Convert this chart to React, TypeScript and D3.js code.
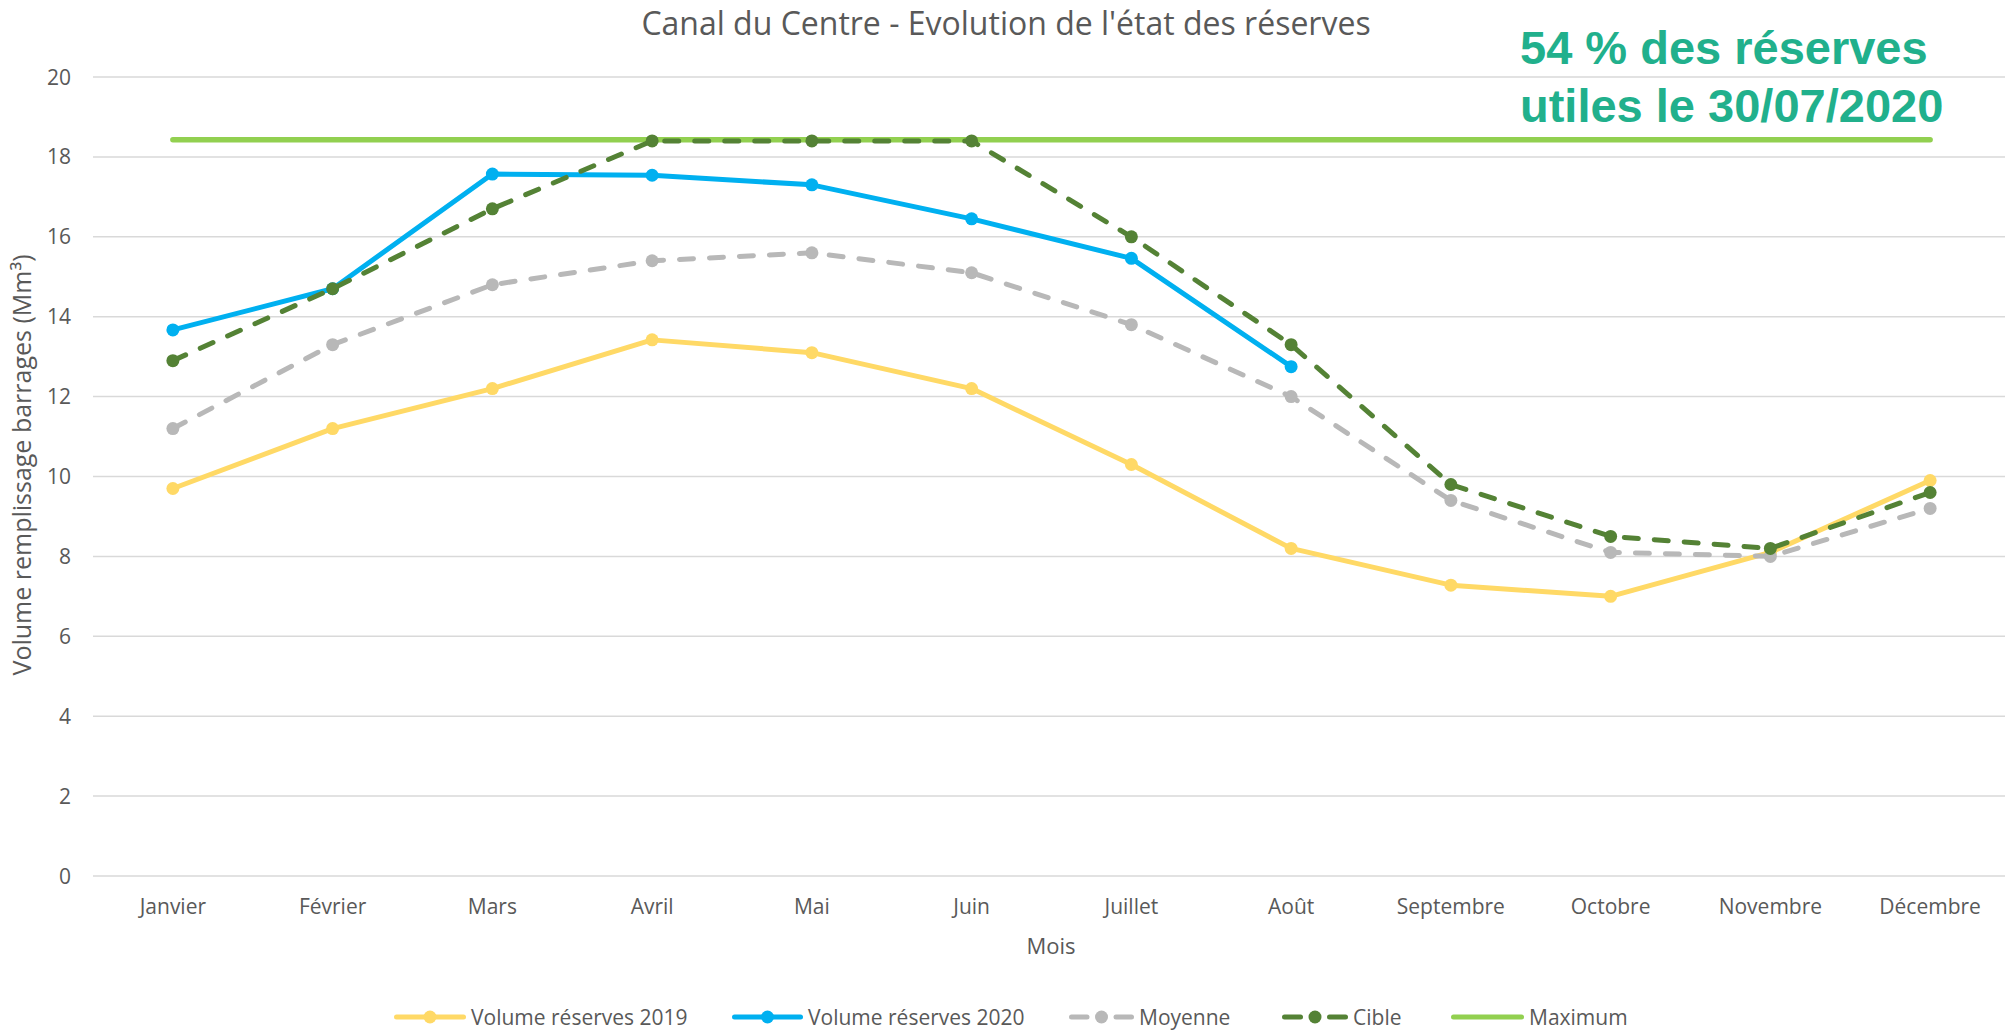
import React, { useEffect, useRef } from "react";
import * as d3 from "d3";

// month labels and series
const months = ["Janvier", "Février", "Mars", "Avril", "Mai", "Juin", "Juillet", "Août", "Septembre", "Octobre", "Novembre", "Décembre"];
const volume2019 = [9.7, 11.2, 12.2, 13.42, 13.1, 12.2, 10.3, 8.2, 7.28, 7.0, 8.1, 9.9];
const volume2020 = [13.67, 14.7, 17.57, 17.54, 17.3, 16.45, 15.46, 12.75];
const moyenne = [11.2, 13.3, 14.8, 15.4, 15.6, 15.1, 13.8, 12.0, 9.4, 8.1, 8.0, 9.2];
const cible = [12.9, 14.7, 16.7, 18.4, 18.4, 18.4, 16.0, 13.3, 9.8, 8.5, 8.2, 9.6];
const maximum = [18.43, 18.43, 18.43, 18.43, 18.43, 18.43, 18.43, 18.43, 18.43, 18.43, 18.43, 18.43];
const yTicks = [0, 2, 4, 6, 8, 10, 12, 14, 16, 18, 20];

const W = 2005;
const H = 1030;
const FONT = "'Open Sans', sans-serif";
const GREY_TEXT = "#595959";

export default function App() {
  const ref = useRef<SVGSVGElement>(null);

  useEffect(() => {
    const svg = d3.select(ref.current);
    svg.selectAll("*").remove();

    const x = d3.scalePoint<string>().domain(months).range([93, 2010]).padding(0.5);
    const y = d3.scaleLinear().domain([0, 20]).range([876, 77]);

    svg.append("rect").attr("width", W).attr("height", H).style("fill", "#ffffff");

    // grid
    svg.selectAll(".grid")
      .data(yTicks)
      .enter()
      .append("line")
      .attr("x1", 93)
      .attr("x2", W)
      .attr("y1", (d) => y(d))
      .attr("y2", (d) => y(d))
      .style("stroke", "#d9d9d9")
      .style("stroke-width", 1.5);

    // y tick labels
    svg.selectAll(".ytick")
      .data(yTicks)
      .enter()
      .append("text")
      .attr("x", 71)
      .attr("y", (d) => y(d))
      .attr("dy", "0.36em")
      .attr("text-anchor", "end")
      .style("font-family", FONT)
      .style("font-size", "21px")
      .style("fill", GREY_TEXT)
      .text((d) => d);

    // x tick labels
    svg.selectAll(".xtick")
      .data(months)
      .enter()
      .append("text")
      .attr("x", (d) => x(d)!)
      .attr("y", 914)
      .attr("text-anchor", "middle")
      .style("font-family", FONT)
      .style("font-size", "21px")
      .style("fill", GREY_TEXT)
      .text((d) => d);

    // axis titles
    svg.append("text")
      .attr("x", 1051)
      .attr("y", 954)
      .attr("text-anchor", "middle")
      .style("font-family", FONT)
      .style("font-size", "22px")
      .style("fill", GREY_TEXT)
      .text("Mois");

    svg.append("text")
      .attr("transform", "translate(31,465) rotate(-90)")
      .attr("text-anchor", "middle")
      .style("font-family", FONT)
      .style("font-size", "25px")
      .style("fill", GREY_TEXT)
      .text("Volume remplissage barrages (Mm³)");

    svg.append("text")
      .attr("x", 1006)
      .attr("y", 35)
      .attr("text-anchor", "middle")
      .style("font-family", FONT)
      .style("font-size", "32px")
      .style("fill", GREY_TEXT)
      .text("Canal du Centre - Evolution de l'état des réserves");

    const series = [
      { name: "Maximum", values: maximum, color: "#92d050", dash: null, marker: false },
      { name: "Volume réserves 2019", values: volume2019, color: "#ffd966", dash: null, marker: true },
      { name: "Volume réserves 2020", values: volume2020, color: "#00b0f0", dash: null, marker: true },
      { name: "Moyenne", values: moyenne, color: "#b8b8b8", dash: "14 16", marker: true },
      { name: "Cible", values: cible, color: "#548235", dash: "14 16", marker: true },
    ];

    const line = d3.line<number>()
      .x((d, i) => x(months[i])!)
      .y((d) => y(d));

    series.forEach((s) => {
      svg.append("path")
        .attr("d", line(s.values))
        .style("fill", "none")
        .style("stroke", s.color)
        .style("stroke-width", s.marker ? 5 : 5.5)
        .style("stroke-linecap", "round")
        .style("stroke-linejoin", "round")
        .style("stroke-dasharray", s.dash);

      if (s.marker) {
        svg.selectAll(".m")
          .data(s.values)
          .enter()
          .append("circle")
          .attr("cx", (d, i) => x(months[i])!)
          .attr("cy", (d) => y(d))
          .attr("r", 6.5)
          .style("fill", s.color);
      }
    });

    // legend
    const legend = [
      { name: "Volume réserves 2019", color: "#ffd966", x0: 394, x1: 466, dash: false, marker: true },
      { name: "Volume réserves 2020", color: "#00b0f0", x0: 732, x1: 803, dash: false, marker: true },
      { name: "Moyenne", color: "#b8b8b8", x0: 1069, x1: 1134, dash: true, marker: true },
      { name: "Cible", color: "#548235", x0: 1282, x1: 1348, dash: true, marker: true },
      { name: "Maximum", color: "#92d050", x0: 1451, x1: 1524, dash: false, marker: false },
    ];
    const ly = 1017;
    legend.forEach((l) => {
      const mid = (l.x0 + l.x1) / 2;
      if (l.dash) {
        [[l.x0, mid - 12], [mid + 12, l.x1]].forEach(([a, b]) => {
          svg.append("line")
            .attr("x1", a + 2.5).attr("x2", b - 2.5)
            .attr("y1", ly).attr("y2", ly)
            .style("stroke", l.color).style("stroke-width", 5).style("stroke-linecap", "round");
        });
      } else {
        svg.append("line")
          .attr("x1", l.x0 + 2.5).attr("x2", l.x1 - 2.5)
          .attr("y1", ly).attr("y2", ly)
          .style("stroke", l.color).style("stroke-width", 5).style("stroke-linecap", "round");
      }
      if (l.marker) {
        svg.append("circle").attr("cx", mid).attr("cy", ly).attr("r", 6.5).style("fill", l.color);
      }
      svg.append("text")
        .attr("x", l.x1 + 5)
        .attr("y", ly)
        .attr("dy", "0.36em")
        .style("font-family", FONT)
        .style("font-size", "21px")
        .style("fill", GREY_TEXT)
        .text(l.name);
    });

    // annotation
    const note = svg.append("text")
      .style("font-family", "'Liberation Sans', Arial, sans-serif")
      .style("font-weight", "bold")
      .style("font-size", "47px")
      .style("fill", "#21b08c");
    note.append("tspan").attr("x", 1520).attr("y", 64).text("54 % des réserves");
    note.append("tspan").attr("x", 1520).attr("y", 122).text("utiles le 30/07/2020");
  }, []);

  return (
    <svg ref={ref} width={W} height={H} style={{ position: "absolute", left: 0, top: 0 }}></svg>
  );
}
